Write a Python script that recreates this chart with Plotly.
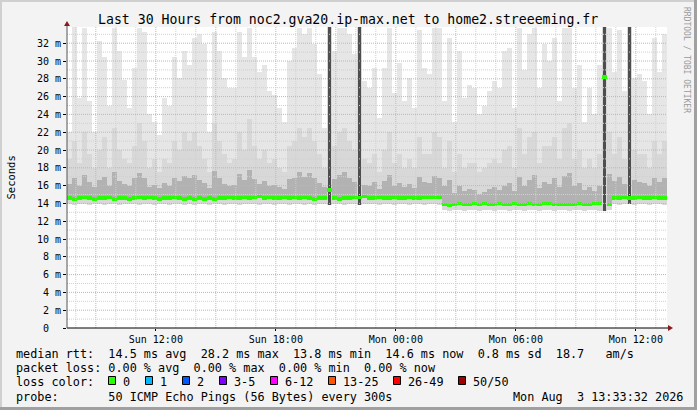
import plotly.graph_objects as go
from datetime import datetime, timedelta

# ---------------- data (15-minute bins) ----------------
start_time = datetime(2026, 8, 2, 7, 33, 32)
end_time = datetime(2026, 8, 3, 13, 33, 32)
bin_minutes = 15

median_ms = [
    14.6, 14.5, 14.6, 14.7, 14.6, 14.5, 14.6, 14.6, 14.7, 14.5, 14.6, 14.6, 14.5, 14.6, 14.7, 14.6, 14.7, 14.6, 14.5, 14.6, 14.6, 14.7, 14.6, 14.5,
    14.6, 14.5, 14.6, 14.5, 14.6, 14.5, 14.6, 14.6, 14.7, 14.6, 14.6, 14.7, 14.6, 14.7, 14.8, 14.6, 14.7, 14.6, 14.6, 14.7, 14.6, 14.7, 14.6, 14.7,
    14.6, 14.5, 14.6, 14.6, 15.5, 14.6, 14.5, 14.6, 14.6, 14.7, 14.7, 14.8, 14.6, 14.6, 14.7, 14.6, 14.6, 14.7, 14.6, 14.6, 14.7, 14.6, 14.6, 14.7,
    14.7, 14.7, 14.7, 13.9, 13.8, 13.9, 14.0, 13.9, 13.9, 14.0, 13.9, 14.0, 13.9, 13.9, 14.0, 13.9, 13.9, 14.0, 13.9, 13.9, 14.0, 13.9, 13.9, 14.0,
    14.0, 13.9, 13.9, 13.9, 13.9, 13.9, 14.0, 13.9, 13.9, 14.0, 14.0, 28.2, 13.9, 14.6, 14.6, 14.7, 14.6, 14.6, 14.7, 14.6, 14.6, 14.7, 14.6, 14.6,
]

low_ms = [
    13.9, 13.8, 13.9, 13.9, 13.8, 13.9, 13.9, 13.8, 13.9, 13.9, 13.8, 13.9, 13.9, 13.9, 13.8, 13.9, 13.9, 13.8, 13.9, 13.9, 13.8, 13.9, 13.9, 13.8,
    13.9, 13.8, 13.9, 13.9, 13.8, 13.9, 13.9, 13.8, 13.9, 13.9, 13.8, 13.9, 13.9, 13.9, 13.8, 13.9, 13.9, 13.8, 13.9, 13.9, 13.8, 13.9, 13.9, 13.8,
    13.9, 13.8, 13.9, 13.9, 13.8, 13.9, 13.9, 13.8, 13.9, 13.9, 13.8, 13.9, 13.9, 13.9, 13.8, 13.9, 13.9, 13.8, 13.9, 13.9, 13.8, 13.9, 13.9, 13.8,
    13.9, 13.9, 13.8, 13.3, 13.2, 13.3, 13.3, 13.2, 13.3, 13.3, 13.2, 13.3, 13.3, 13.2, 13.3, 13.3, 13.2, 13.3, 13.3, 13.2, 13.3, 13.3, 13.2, 13.3,
    13.3, 13.2, 13.3, 13.3, 13.2, 13.3, 13.3, 13.2, 13.3, 13.3, 13.2, 13.2, 13.3, 13.9, 13.8, 13.9, 13.9, 13.8, 13.9, 13.9, 13.8, 13.9, 13.9, 13.8,
]

core_ms = [
    16.2, 16.8, 15.9, 17.2, 16.4, 15.8, 16.6, 17.0, 16.0, 17.5, 16.5, 16.2, 15.9, 16.8, 17.4, 16.9, 15.8, 16.1, 15.7, 16.3, 16.0, 16.9, 16.5, 17.1,
    16.8, 17.2, 16.6, 16.3, 15.7, 17.6, 16.9, 16.2, 16.0, 16.1, 17.3, 16.6, 17.8, 16.7, 16.2, 16.5, 15.9, 16.1, 15.8, 15.6, 16.7, 16.9, 17.5, 17.0,
    17.4, 16.9, 16.3, 15.8, 34.0, 16.7, 17.2, 17.5, 16.8, 16.4, 34.0, 16.1, 15.9, 16.4, 15.6, 16.5, 17.2, 15.9, 16.3, 15.8, 16.2, 15.7, 17.0, 16.4,
    16.3, 17.1, 16.9, 15.9, 16.6, 15.2, 15.9, 15.4, 15.6, 15.5, 15.1, 15.3, 15.6, 15.8, 15.5, 16.0, 16.3, 15.4, 17.0, 15.9, 16.6, 17.2, 15.7, 16.4,
    16.2, 16.8, 15.8, 17.1, 17.4, 15.9, 16.3, 15.5, 15.8, 15.4, 16.0, 34.0, 17.3, 16.5, 17.0, 16.2, 34.0, 16.6, 16.4, 16.3, 15.9, 16.9, 16.4, 16.8,
]

upper_ms = [
    19.0, 21.0, 18.5, 22.0, 19.5, 18.0, 20.0, 21.5, 18.0, 22.5, 20.0, 19.0, 18.5, 20.5, 23.0, 21.0, 18.0, 19.0, 17.5, 19.0, 18.5, 21.0, 20.0, 22.0,
    21.0, 22.0, 20.5, 19.0, 17.5, 23.0, 21.0, 19.5, 18.5, 19.0, 22.0, 20.0, 23.5, 20.5, 19.0, 20.0, 18.5, 19.0, 18.0, 17.5, 20.5, 21.0, 22.5, 21.5,
    22.5, 21.0, 19.5, 18.0, 34.0, 20.5, 22.0, 22.5, 21.0, 20.0, 34.0, 19.0, 18.5, 19.5, 17.5, 20.0, 22.0, 18.5, 19.5, 18.0, 19.0, 18.0, 21.5, 19.5,
    19.5, 22.0, 21.5, 18.0, 21.0, 17.5, 19.5, 18.0, 18.5, 18.5, 17.5, 18.0, 18.5, 19.0, 18.5, 20.0, 20.5, 18.0, 22.5, 19.5, 21.5, 22.0, 18.5, 20.5,
    20.5, 21.5, 19.0, 22.5, 23.0, 19.0, 20.0, 18.0, 19.0, 18.0, 19.5, 34.0, 22.0, 19.5, 21.5, 19.0, 34.0, 20.0, 19.5, 19.5, 18.0, 21.0, 19.5, 21.0,
]

max_ms = [
    22.0, 33.9, 25.8, 33.7, 25.5, 22.0, 32.2, 30.4, 25.0, 33.7, 31.1, 27.9, 24.7, 29.2, 33.7, 33.3, 24.0, 23.2, 21.7, 25.8, 25.0, 30.4, 28.1, 31.1,
    29.6, 32.6, 33.0, 31.9, 22.0, 33.3, 31.1, 28.1, 27.0, 27.0, 33.3, 30.4, 33.7, 30.5, 28.8, 29.6, 26.6, 26.2, 24.7, 23.2, 30.0, 31.5, 33.7, 33.0,
    33.7, 31.9, 28.5, 22.5, 34.0, 31.1, 33.7, 33.7, 33.0, 30.8, 34.0, 27.8, 27.0, 29.2, 23.6, 29.2, 33.7, 26.4, 29.8, 25.5, 28.1, 24.7, 33.5, 29.2,
    28.5, 33.7, 33.7, 25.5, 32.6, 23.2, 31.1, 25.8, 27.3, 27.0, 24.0, 25.0, 26.6, 27.8, 27.0, 31.1, 31.5, 24.7, 33.7, 29.0, 33.0, 33.7, 27.0, 31.9,
    30.0, 32.6, 25.5, 33.7, 33.7, 27.0, 29.6, 23.2, 27.0, 24.0, 29.6, 34.0, 33.7, 28.8, 33.5, 26.6, 34.0, 28.1, 28.5, 27.8, 24.0, 32.6, 28.8, 33.0,
]

y_tick_values = list(range(0, 33, 2))
y_tick_labels = ["0\u00a0\u00a0"] + [f"{v}\u00a0m" for v in range(2, 33, 2)]
x_label_times = [datetime(2026, 8, 2, 12), datetime(2026, 8, 2, 18), datetime(2026, 8, 3, 0),
                 datetime(2026, 8, 3, 6), datetime(2026, 8, 3, 12)]
x_label_texts = ["Sun 12:00", "Sun 18:00", "Mon 00:00", "Mon 06:00", "Mon 12:00"]

title_text = "Last 30 Hours from noc2.gva20.ip-max.net to home2.streeeming.fr"
legend_lines = [
    "median rtt:  14.5 ms avg  28.2 ms max  13.8 ms min  14.6 ms now  0.8 ms sd  18.7   am/s",
    "packet loss: 0.00 % avg  0.00 % max  0.00 % min  0.00 % now",
    "loss color:",
    "probe:       50 ICMP Echo Pings (56 Bytes) every 300s",
]
loss_labels = ["0", "1", "2", "3-5", "6-12", "13-25", "26-49", "50/50"]
loss_colors = ["#26ff00", "#00b8ff", "#0059ff", "#7e00ff", "#ff00ff", "#ff5500", "#ff0000", "#a10000"]
date_stamp = "Mon Aug  3 13:33:32 2026"

# ---------------- geometry helpers (pixel -> paper) ----------------
W, H = 697, 410
L, R, T, B = 67, 667, 27, 328
Y_TOP = 33.82


def px(x):
    return (x - L) / (R - L)


def py(y):
    return (B - y) / (B - T)


def nb(s):
    return s.replace(" ", "\u00a0")


times = [start_time + timedelta(minutes=bin_minutes * (k + 0.5)) for k in range(len(median_ms))]
bar_w = bin_minutes * 60 * 1000

# dense high-latency bins are drawn as a narrow dark streak from the bottom of the smoke
spike = [c > 30 for c in core_ms]
core_colors = ["#4e4e4e" if s else "#b2b2b2" for s in spike]
core_widths = [bar_w * 0.45 if s else bar_w for s in spike]
core_base = [lo if s else m for s, lo, m in zip(spike, low_ms, median_ms)]

fig = go.Figure()
fig.add_trace(go.Bar(x=times, base=low_ms, y=[a - b for a, b in zip(max_ms, low_ms)], width=bar_w,
                     marker=dict(color="#e6e6e6", line=dict(width=0)), hoverinfo="skip"))
fig.add_trace(go.Bar(x=times, base=low_ms, y=[a - b for a, b in zip(upper_ms, low_ms)], width=bar_w,
                     marker=dict(color="#d8d8d8", line=dict(width=0)), hoverinfo="skip"))
fig.add_trace(go.Bar(x=times, base=core_base, y=[a - b for a, b in zip(core_ms, core_base)], width=core_widths,
                     marker=dict(color=core_colors, line=dict(width=0)), hoverinfo="skip"))
fig.add_trace(go.Bar(x=times, base=[m - 0.18 for m in median_ms], y=[0.36] * len(median_ms), width=bar_w,
                     marker=dict(color="#26ff00", line=dict(width=0)), hoverinfo="skip"))

shapes = []
# grid lines above the smoke
t = datetime(2026, 8, 2, 8)
while t <= end_time:
    major = (t.hour % 3 == 0)
    shapes.append(dict(type="line", xref="x", yref="paper", x0=t, x1=t, y0=0, y1=1, layer="above",
                       line=dict(color="#f2a0a0" if major else "#cfcfcf", width=1, dash="1px,1px")))
    t += timedelta(hours=1)
for v in range(1, 34):
    major = (v % 2 == 0)
    shapes.append(dict(type="line", xref="paper", yref="y", x0=0, x1=1, y0=v, y1=v, layer="above",
                       line=dict(color="#f2a0a0" if major else "#cfcfcf", width=1, dash="1px,1px")))
# axes lines and arrows
shapes.append(dict(type="line", xref="paper", yref="paper", x0=px(67), x1=px(670), y0=py(328), y1=py(328),
                   layer="above", line=dict(color="#000000", width=1)))
shapes.append(dict(type="line", xref="paper", yref="paper", x0=px(67), x1=px(67), y0=py(328), y1=py(24),
                   layer="above", line=dict(color="#555555", width=1)))
shapes.append(dict(type="path", xref="paper", yref="paper", layer="above",
                   path=f"M {px(668)} {py(325)} L {px(673)} {py(328)} L {px(668)} {py(331)} Z",
                   fillcolor="#8b1a1a", line=dict(width=0)))
shapes.append(dict(type="path", xref="paper", yref="paper", layer="above",
                   path=f"M {px(64)} {py(26)} L {px(67)} {py(21)} L {px(70)} {py(26)} Z",
                   fillcolor="#8b1a1a", line=dict(width=0)))
# loss colour boxes
box_left = [108, 145, 182, 219, 270, 328, 393, 458]
for bx, c in zip(box_left, loss_colors):
    shapes.append(dict(type="rect", xref="paper", yref="paper", x0=px(bx + 0.5), x1=px(bx + 7.5),
                       y0=py(376.5), y1=py(384.5), fillcolor=c, line=dict(color="#000000", width=1)))
# frame
shapes.append(dict(type="rect", xref="paper", yref="paper", x0=px(0), x1=px(697), y0=py(0), y1=py(2),
                   fillcolor="#d0d0d0", line=dict(width=0)))
shapes.append(dict(type="rect", xref="paper", yref="paper", x0=px(0), x1=px(2), y0=py(0), y1=py(410),
                   fillcolor="#d0d0d0", line=dict(width=0)))
shapes.append(dict(type="rect", xref="paper", yref="paper", x0=px(0), x1=px(697), y0=py(407), y1=py(410),
                   fillcolor="#a0a0a0", line=dict(width=0)))
shapes.append(dict(type="rect", xref="paper", yref="paper", x0=px(694), x1=px(697), y0=py(0), y1=py(410),
                   fillcolor="#a0a0a0", line=dict(width=0)))

MONO = "DejaVu Sans Mono"
ann = []


def text(x, y, s, size=11.8, anchor="left", color="#000000", angle=0):
    ann.append(dict(xref="paper", yref="paper", x=px(x), y=py(y), text=nb(s), showarrow=False,
                    xanchor=anchor, yanchor="middle", textangle=angle, borderpad=0, borderwidth=0,
                    font=dict(family=MONO, size=size, color=color)))


text(347.5, 20, title_text, size=13.2, anchor="center")
for s, yy in zip(legend_lines, [354, 368, 382, 397]):
    text(16, yy, s)
for bx, lab in zip(box_left, loss_labels):
    text(bx + 14.5, 382, lab)
text(512.5, 397, date_stamp)
text(10, 177.5, "Seconds", size=10.5, anchor="center", angle=-90)
text(687, 60, "RRDTOOL / TOBI OETIKER", size=8, anchor="center", color="#9a9a9a", angle=90)

fig.update_layout(
    width=W, height=H, autosize=False,
    margin=dict(l=L, r=W - R, t=T, b=H - B, pad=0),
    paper_bgcolor="#f3f3f3", plot_bgcolor="#ffffff",
    barmode="overlay", bargap=0, showlegend=False,
    shapes=shapes, annotations=ann,
    xaxis=dict(type="date", range=[start_time, end_time], showgrid=False, zeroline=False, showline=False,
               tickvals=x_label_times, ticktext=x_label_texts, ticks="outside", ticklen=2,
               tickcolor="#000000", tickfont=dict(family=MONO, size=10, color="#000000")),
    yaxis=dict(range=[0, Y_TOP], showgrid=False, zeroline=False, showline=False,
               tickvals=y_tick_values, ticktext=y_tick_labels, ticks="outside", ticklen=3,
               tickcolor="#000000", tickfont=dict(family=MONO, size=10, color="#000000")),
)

fig.write_html("out.html", config={"displayModeBar": False, "staticPlot": True},
               post_script="document.body.style.margin='0';document.body.style.overflow='hidden';")
